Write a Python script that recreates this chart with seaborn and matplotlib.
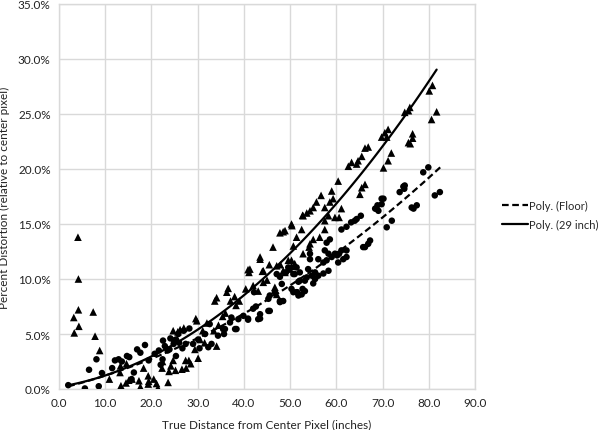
import numpy as np
import pandas as pd
import matplotlib
matplotlib.use("Agg")
import matplotlib.pyplot as plt
import seaborn as sns
from matplotlib.ticker import FuncFormatter

# ---- data (percent distortion vs true distance, inches) ----
inch29_x = [3.2, 3.3, 4.1, 4.2, 4.2, 4.3, 7.4, 7.8, 8.8,
            10.9, 13.2, 13.3, 13.4, 14.5, 14.6, 15.1, 15.8, 17.3, 17.6, 18.3, 19.3, 19.3, 19.4,
            20.5, 21.1, 21.4, 22.3, 22.4, 23.6, 23.8, 24.2, 24.7, 25.2, 24.7, 25.7, 26.2, 27.0,
            26.6, 27.4, 27.5, 28.1, 28.5, 29.4, 29.6, 29.8, 30.1, 30.5, 31.1, 31.5, 32.0, 33.5,
            33.7, 34.1, 34.1, 34.5, 35.4, 36.0, 36.3, 36.6, 37.1, 38.0, 38.3, 39.0, 40.4, 40.9,
            41.1, 42.0, 43.1, 43.5, 44.0, 44.2, 44.2, 45.0, 45.5, 46.3, 46.7, 47.1, 47.1, 47.8,
            47.9, 48.5, 48.5, 48.9, 49.6, 50.0, 50.3, 50.3, 50.7, 51.0, 51.4, 52.5, 52.7, 52.8,
            53.6, 54.1, 54.3, 55.0, 55.0, 55.7, 56.7, 57.5, 57.5, 58.6, 59.0, 59.3, 59.7, 60.4,
            60.6, 61.1, 62.6, 63.3, 64.4, 64.7, 65.1, 65.5, 65.5, 66.2, 66.2, 66.9, 69.8, 70.2,
            70.5, 70.9, 71.2, 71.2, 71.9, 74.8, 75.6, 75.9, 75.6, 76.0, 76.5, 76.5, 80.1, 80.8,
            80.6, 81.7, 50.4, 48.9, 57.5, 58.3, 52.8, 56.4, 54.3, 50.3, 41.3, 43.5]
inch29_y = [6.5, 5.1, 13.8, 10.0, 7.2, 5.7, 7.0, 4.8, 3.5,
            0.9, 1.5, 2.1, 0.3, 0.55, 2.3, 0.8, 0.9, 0.75, 0.2, 1.9, 0.45, 1.2, 0.7,
            0.9, 0.5, 0.1, 1.9, 2.5, 0.6, 1.6, 2.1, 2.6, 1.7, 5.3, 5.2, 5.4, 5.55,
            1.8, 2.6, 1.9, 2.6, 2.3, 3.6, 6.4, 6.2, 2.8, 4.5, 5.3, 4.2, 6.0, 5.3,
            8.0, 8.3, 3.9, 5.8, 6.6, 6.9, 8.8, 9.15, 8.0, 8.4, 7.6, 8.0, 9.1, 10.85,
            10.6, 9.4, 8.9, 11.8, 10.7, 9.7, 10.75, 9.9, 11.3, 12.9, 9.25, 8.6, 11.2, 14.2,
            11.3, 10.75, 14.3, 10.6, 11.7, 10.9, 15.0, 11.15, 13.0, 11.4, 13.8, 14.5, 15.8, 12.3,
            16.0, 12.9, 16.2, 16.5, 13.6, 17.0, 17.6, 16.5, 14.5, 17.0, 18.0, 17.3, 15.6, 18.9,
            15.6, 16.4, 20.25, 20.6, 20.45, 20.75, 17.7, 21.15, 18.3, 21.9, 18.6, 22.0, 22.9, 20.1,
            23.3, 22.9, 23.6, 20.75, 21.45, 25.15, 25.3, 25.6, 22.4, 22.3, 23.2, 22.8, 27.1, 27.6,
            24.5, 25.2, 14.85, 14.4, 15.3, 15.75, 15.75, 13.8, 13.2, 11.7, 10.9, 12.0]

floor_x = [2.0, 5.6, 6.5, 8.1, 8.6, 9.3, 11.5, 12.1, 12.9, 13.6, 14.7, 15.2, 15.7, 16.2,
           16.9, 17.6, 18.6, 19.4, 20.7, 21.6, 22.0, 22.4, 22.5, 22.9, 23.5, 23.9, 24.1, 24.8,
           24.9, 25.3, 25.3, 25.8, 26.0, 26.7, 27.0, 27.4, 28.2, 29.0, 30.1, 30.4, 31.6, 32.3,
           32.6, 33.0, 34.4, 35.5, 35.7, 35.9, 37.0, 37.3, 38.1, 38.4, 38.8, 39.9, 40.9, 40.9,
           42.0, 42.2, 42.6, 43.1, 43.5, 43.5, 45.3, 45.3, 45.6, 45.6, 46.7, 47.1, 47.8, 47.8,
           47.8, 48.2, 48.5, 49.1, 49.6, 50.3, 50.7, 50.7, 51.0, 51.4, 51.4, 51.5, 51.8, 51.8,
           52.1, 52.1, 52.5, 52.7, 53.2, 53.2, 53.6, 53.9, 54.3, 54.3, 54.7, 55.0, 55.4, 55.4,
           56.1, 56.1, 57.2, 57.2, 57.5, 57.9, 57.9, 58.3, 58.3, 58.6, 59.0, 59.7, 60.2, 60.4,
           60.6, 61.1, 61.1, 61.5, 62.2, 62.2, 62.2, 63.2, 64.0, 64.4, 65.3, 65.8, 66.2, 66.9,
           67.3, 68.4, 68.6, 68.9, 69.1, 69.8, 69.8, 70.2, 70.9, 72.0, 73.7, 74.5, 74.7, 74.8,
           76.3, 76.7, 77.4, 78.8, 79.9, 81.3, 82.4]
floor_y = [0.35, 0.05, 1.75, 2.7, 0.25, 1.45, 1.9, 2.6, 2.7, 2.5, 3.0, 2.9, 0.9, 1.5,
           3.6, 3.3, 4.0, 2.6, 3.2, 3.5, 2.2, 2.7, 4.4, 3.9, 3.5, 3.6, 4.6, 4.1,
           4.4, 3.0, 4.5, 5.0, 4.2, 3.7, 5.3, 4.1, 5.5, 4.1, 4.5, 3.7, 5.0, 3.8,
           5.9, 4.1, 4.85, 5.45, 5.0, 5.45, 6.05, 6.5, 5.45, 5.45, 6.35, 6.65, 6.3, 6.4,
           7.3, 8.8, 7.5, 6.35, 6.8, 6.4, 7.1, 8.2, 7.1, 8.5, 8.8, 10.45, 8.0, 7.9,
           10.2, 9.55, 8.0, 10.6, 11.05, 9.1, 8.8, 10.45, 10.45, 11.05, 8.8, 8.8, 9.75, 8.5,
           10.6, 9.85, 8.6, 9.1, 8.9, 9.85, 10.15, 10.9, 11.8, 12.3, 10.3, 9.6, 10.0, 10.6,
           10.3, 11.8, 11.5, 10.5, 12.6, 13.3, 11.7, 12.3, 10.75, 13.6, 12.0, 12.3, 12.15, 11.5,
           12.3, 14.5, 12.6, 11.8, 14.75, 12.6, 12.0, 15.15, 15.3, 15.45, 15.75, 12.9, 12.9, 13.2,
           13.5, 16.4, 16.4, 16.7, 16.2, 16.8, 17.3, 17.3, 14.7, 15.3, 17.9, 18.4, 18.2, 18.5,
           16.5, 16.4, 16.7, 19.7, 20.15, 17.6, 17.9]

# trendline values (Excel "Poly." order 2 trendlines)
trend29_x = [1.75, 9.3, 21.6, 30.5, 41.3, 50.0, 58.6, 70.2, 81.7]
trend29_y = [0.4, 1.3, 3.0, 5.3, 9.1, 12.5, 16.0, 22.7, 28.7]
trendfl_x = [2.0, 9.3, 21.6, 30.5, 40.6, 50.0, 60.0, 70.7, 82.6]
trendfl_y = [0.3, 1.3, 2.9, 4.5, 6.6, 9.6, 12.8, 16.0, 19.9]

x_ticks = [0, 10, 20, 30, 40, 50, 60, 70, 80, 90]
y_ticks = [0, 5, 10, 15, 20, 25, 30, 35]

df29 = pd.DataFrame({"x": inch29_x, "y": inch29_y})
dff = pd.DataFrame({"x": floor_x, "y": floor_y})
t29 = pd.DataFrame({"x": trend29_x, "y": trend29_y})
tfl = pd.DataFrame({"x": trendfl_x, "y": trendfl_y})

sns.set_theme(style="whitegrid")
plt.rcParams["font.family"] = ["Lato", "DejaVu Sans"]

fig = plt.figure(figsize=(6.0, 4.31), dpi=100)
ax = fig.add_axes([59 / 600, 1 - 390 / 431, (475 - 59) / 600, (390 - 5) / 431])

sns.scatterplot(data=df29, x="x", y="y", marker="^", s=30, color="black",
                edgecolor="none", ax=ax, zorder=3)
sns.scatterplot(data=dff, x="x", y="y", marker="o", s=22, color="black",
                edgecolor="none", ax=ax, zorder=3)

sns.regplot(data=tfl, x="x", y="y", order=2, ci=None, scatter=False, truncate=True,
            ax=ax, line_kws=dict(color="black", lw=1.6, ls=(0, (3, 1.6)), zorder=4))
line_floor = ax.lines[-1]
sns.regplot(data=t29, x="x", y="y", order=2, ci=None, scatter=False, truncate=True,
            ax=ax, line_kws=dict(color="black", lw=1.6, ls="-", zorder=4))
line_29 = ax.lines[-1]

ax.set_xlim(0, 90)
ax.set_ylim(0, 35)
ax.set_xticks(x_ticks)
ax.set_yticks(y_ticks)
ax.set_xlabel("")
ax.set_ylabel("")
ax.xaxis.set_major_formatter(FuncFormatter(lambda v, p: f"{v:.1f}"))
ax.yaxis.set_major_formatter(FuncFormatter(lambda v, p: f"{v:.1f}%"))
ax.grid(True, color="#d9d9d9", lw=1.0)
for sp in ax.spines.values():
    sp.set_visible(True)
    sp.set_color("#d9d9d9")
    sp.set_linewidth(1.0)
ax.tick_params(axis="both", length=0, labelsize=8.5, colors="#222222", pad=6)

ax.set_xlabel("True Distance from Center Pixel (inches)", fontsize=8.5, color="#222222", labelpad=7)
ax.set_ylabel("Percent Distortion (relative to center pixel)", fontsize=8.5, color="#222222", labelpad=6)

fig.legend(handles=[line_floor, line_29], labels=["Poly. (Floor)", "Poly. (29 inch)"],
           loc="center left", bbox_to_anchor=(492 / 600, 1 - 216 / 431), frameon=False,
           fontsize=8, handlelength=2.3, handletextpad=0.15, labelspacing=0.7)

fig.savefig("out.png", dpi=100, facecolor="white")
